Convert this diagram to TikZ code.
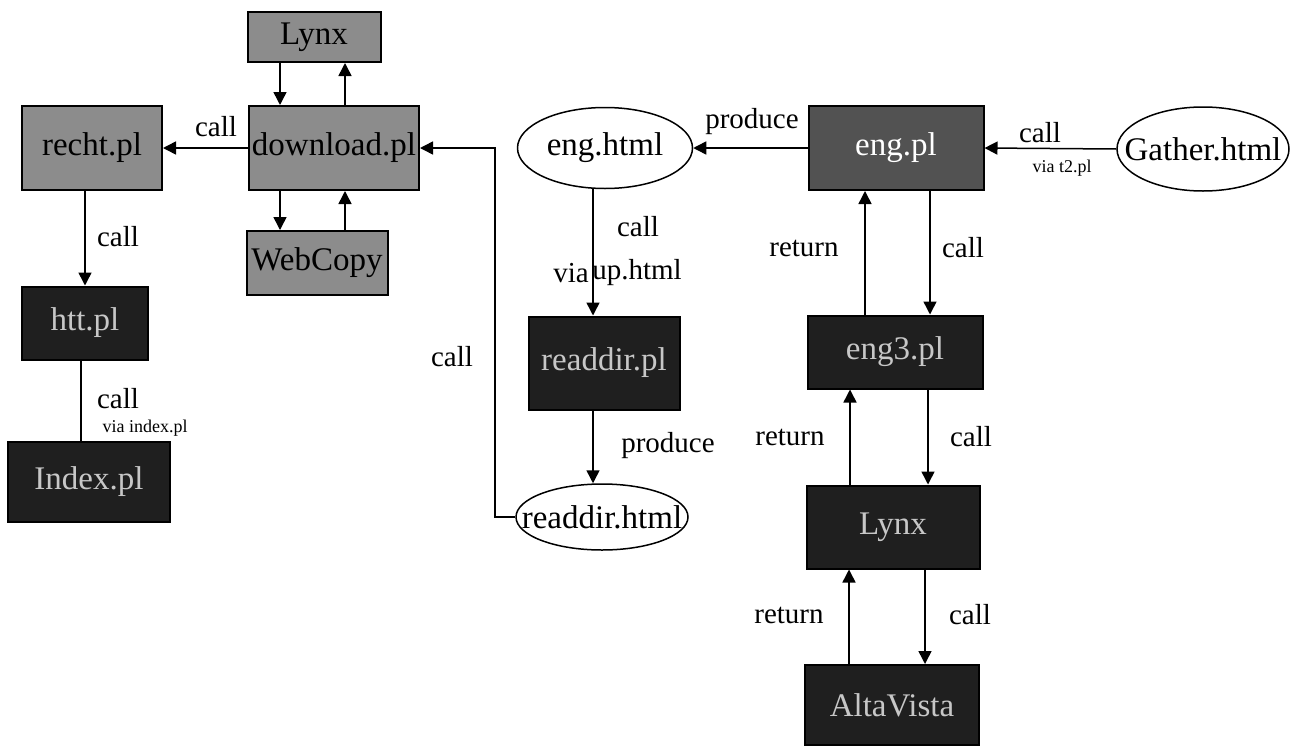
\documentclass[tikz,border=0pt]{standalone}
\usepackage{fontspec}
\setmainfont{Liberation Serif}
\usetikzlibrary{arrows.meta,shapes.geometric}
\begin{document}
\begin{tikzpicture}[x=1pt,y=-1pt,
  box/.style={draw=black,line width=2pt,inner sep=0pt,font=\fontsize{33}{36}\selectfont},
  lightbox/.style={box,fill=black!45,text=black},
  midbox/.style={box,fill=black!68,text=white},
  darkbox/.style={box,fill=black!88,text=black!22},
  doc/.style={ellipse,draw=black,line width=1.5pt,inner sep=0pt,fill=white,
    label={[font=\fontsize{33}{36}\selectfont,inner sep=0pt]center:#1}},
  arr/.style={line width=1.5pt,-{Triangle[length=13pt,width=13pt]}},
  plain/.style={line width=1.5pt},
  lbl/.style={font=\fontsize{29}{32}\selectfont,inner sep=0pt},
  small/.style={font=\fontsize{18}{20}\selectfont,inner sep=0pt}]
\useasboundingbox (0,0) rectangle (1292,747);

% column helpers
\coordinate (c280) at (280,0);
\coordinate (c345) at (345,0);
\coordinate (c85) at (85,0);
\coordinate (c81) at (81,0);
\coordinate (c593) at (593,0);
\coordinate (c865) at (865,0);
\coordinate (c930) at (930,0);
\coordinate (c850) at (850,0);
\coordinate (c928) at (928,0);
\coordinate (c849) at (849,0);
\coordinate (c925) at (925,0);

% left part
\node[lightbox,minimum width=133pt,minimum height=50pt] (lynxA) at (314,37) {Lynx};
\node[lightbox,minimum width=170pt,minimum height=84pt] (dl) at (334,148) {download.pl};
\node[lightbox,minimum width=140pt,minimum height=84pt] (recht) at (92,148) {recht.pl};
\node[lightbox,minimum width=141pt,minimum height=64pt] (webcopy) at (317,263) {WebCopy};
\node[darkbox,minimum width=126pt,minimum height=73pt] (htt) at (85,323) {htt.pl};
\node[darkbox,minimum width=162pt,minimum height=80pt] (idx) at (89,482) {Index.pl};

% middle part
\node[doc=eng.html,minimum width=175pt,minimum height=81pt] (enghtml) at (605,148) {};
\node[darkbox,minimum width=151pt,minimum height=93pt] (readdirpl) at (604,363) {readdir.pl};
\node[doc=readdir.html,minimum width=172pt,minimum height=66pt] (readdirhtml) at (602,517) {};

% right part
\node[midbox,minimum width=175pt,minimum height=84pt] (engpl) at (896,148) {eng.pl};
\node[doc=Gather.html,minimum width=172pt,minimum height=84pt] (gather) at (1203,149) {};
\node[darkbox,minimum width=175pt,minimum height=73pt] (eng3) at (895,352) {eng3.pl};
\node[darkbox,minimum width=173pt,minimum height=83pt] (lynxB) at (893,527) {Lynx};
\node[darkbox,minimum width=174pt,minimum height=80pt] (alta) at (892,705) {AltaVista};

% connectors, left
\draw[arr] (lynxA.south -| c280) -- (dl.north -| c280);
\draw[arr] (dl.north -| c345) -- (lynxA.south -| c345);
\draw[arr] (dl.south -| c280) -- (webcopy.north -| c280);
\draw[arr] (webcopy.north -| c345) -- (dl.south -| c345);
\draw[arr] (dl.west) -- (recht.east);
\node[lbl] (l1) at (216,127) {call};
\draw[arr] (recht.south -| c85) -- (htt.north -| c85);
\node[lbl] (l2) at (118,237) {call};
\draw[plain] (htt.south -| c81) -- (idx.north -| c81);
\node[lbl] (l3) at (118,399) {call};
\node[small] (l4) at (145,428) {via index.pl};

% connectors, middle
\coordinate (bend) at (495,148);
\draw[arr] (readdirhtml.west) -| (bend) -- (dl.east);
\node[lbl] (l5) at (452,357) {call};
\draw[arr] (enghtml.south -| c593) -- (readdirpl.north -| c593);
\node[lbl] (l6) at (638,227) {call};
\node[lbl] (l7a) at (571,273) {via};
\node[lbl] (l7b) at (637,273) {up.html};
\draw[arr] (readdirpl.south -| c593) -- (readdirhtml.north -| c593);
\node[lbl] (l8) at (668,446) {produce};

% connectors, right
\draw[arr] (engpl.west) -- (enghtml.east);
\node[lbl] (l9) at (752,122) {produce};
\draw[arr] (gather.west) -- (engpl.east);
\node[lbl] (l10) at (1040,133) {call};
\node[small] (l11) at (1062,168) {via t2.pl};
\draw[arr] (eng3.north -| c865) -- (engpl.south -| c865);
\draw[arr] (engpl.south -| c930) -- (eng3.north -| c930);
\node[lbl] (l12) at (804,248) {return};
\node[lbl] (l13) at (963,248) {call};
\draw[arr] (lynxB.north -| c850) -- (eng3.south -| c850);
\draw[arr] (eng3.south -| c928) -- (lynxB.north -| c928);
\node[lbl] (l14) at (790,437) {return};
\node[lbl] (l15) at (971,437) {call};
\draw[arr] (alta.north -| c849) -- (lynxB.south -| c849);
\draw[arr] (lynxB.south -| c925) -- (alta.north -| c925);
\node[lbl] (l16) at (789,615) {return};
\node[lbl] (l17) at (970,615) {call};
\end{tikzpicture}
\end{document}
